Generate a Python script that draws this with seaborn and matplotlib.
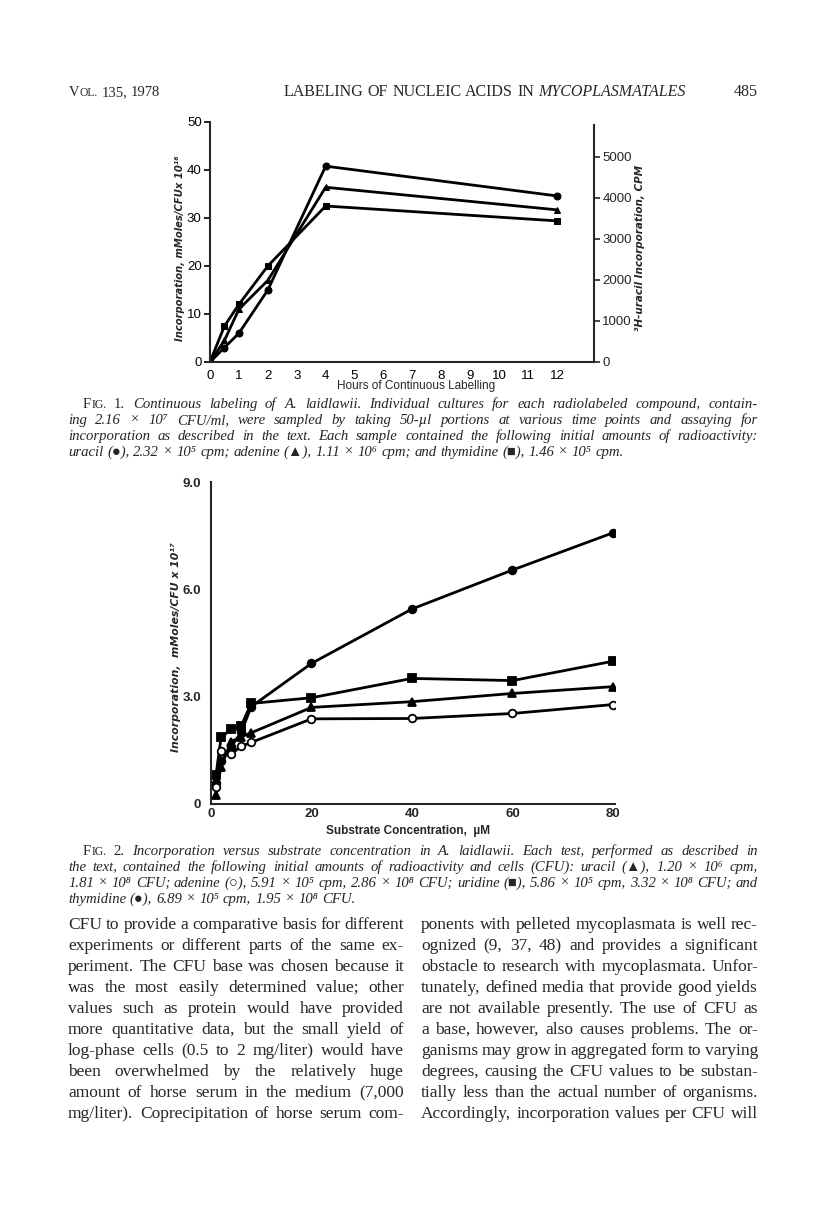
import numpy as np
import pandas as pd
import matplotlib
matplotlib.use("Agg")
import matplotlib.pyplot as plt
import seaborn as sns

# ---------------- data ----------------
# Fig. 1 : continuous labelling
hours = [0, 0.5, 1, 2, 4, 12]
uracil_f1 = [0, 3.0, 6.0, 15.0, 40.8, 34.6]
adenine_f1 = [0, 4.5, 11.0, 17.0, 36.4, 31.7]
thymidine_f1 = [0, 7.5, 12.0, 20.0, 32.5, 29.4]
f1_xticks = list(range(13))
f1_yticks = [0, 10, 20, 30, 40, 50]
f1_rticks = [0, 1000, 2000, 3000, 4000, 5000]

# Fig. 2 : substrate concentration
conc = [1, 2, 4, 6, 8, 20, 40, 60, 80]
uracil_f2 = [0.25, 1.04, 1.74, 1.88, 1.99, 2.70, 2.86, 3.09, 3.28]
adenine_f2 = [0.48, 1.49, 1.40, 1.61, 1.72, 2.38, 2.39, 2.53, 2.78]
uridine_f2 = [0.81, 1.86, 2.09, 2.18, 2.81, 2.97, 3.51, 3.45, 3.99]
thymidine_f2 = [0.60, 1.20, 1.60, 2.00, 2.72, 3.93, 5.45, 6.54, 7.58]
f2_xticks = [0, 20, 40, 60, 80]
f2_yticks = [0, 3.0, 6.0, 9.0]
f2_yticklabels = ["0", "3.0", "6.0", "9.0"]

# ---------------- text ----------------
header_left = "135, 1978"
header_title = "LABELING OF NUCLEIC ACIDS IN"
header_title_it = "MYCOPLASMATALES"
header_page = "485"

cap1_first = "Continuous labeling of A. laidlawii. Individual cultures for each radiolabeled compound, contain-"
cap1_rest = [
    "ing 2.16 \u00d7 10\u2077 CFU/ml, were sampled by taking 50-\u00b5l portions at various time points and assaying for",
    "incorporation as described in the text. Each sample contained the following initial amounts of radioactivity:",
    "uracil (\u25cf), 2.32 \u00d7 10\u2075 cpm; adenine (\u25b2), 1.11 \u00d7 10\u2076 cpm; and thymidine (\u25a0), 1.46 \u00d7 10\u2075 cpm.",
]
cap2_first = "Incorporation versus substrate concentration in A. laidlawii. Each test, performed as described in"
cap2_rest = [
    "the text, contained the following initial amounts of radioactivity and cells (CFU): uracil (\u25b2), 1.20 \u00d7 10\u2076 cpm,",
    "1.81 \u00d7 10\u2078 CFU; adenine (\u25cb), 5.91 \u00d7 10\u2075 cpm, 2.86 \u00d7 10\u2078 CFU; uridine (\u25a0), 5.86 \u00d7 10\u2075 cpm, 3.32 \u00d7 10\u2078 CFU; and",
    "thymidine (\u25cf), 6.89 \u00d7 10\u2075 cpm, 1.95 \u00d7 10\u2078 CFU.",
]
body_left = [
    "CFU to provide a comparative basis for different",
    "experiments or different parts of the same ex-",
    "periment. The CFU base was chosen because it",
    "was the most easily determined value; other",
    "values such as protein would have provided",
    "more quantitative data, but the small yield of",
    "log-phase cells (0.5 to 2 mg/liter) would have",
    "been overwhelmed by the relatively huge",
    "amount of horse serum in the medium (7,000",
    "mg/liter). Coprecipitation of horse serum com-",
]
body_right = [
    "ponents with pelleted mycoplasmata is well rec-",
    "ognized (9, 37, 48) and provides a significant",
    "obstacle to research with mycoplasmata. Unfor-",
    "tunately, defined media that provide good yields",
    "are not available presently. The use of CFU as",
    "a base, however, also causes problems. The or-",
    "ganisms may grow in aggregated form to varying",
    "degrees, causing the CFU values to be substan-",
    "tially less than the actual number of organisms.",
    "Accordingly, incorporation values per CFU will",
]

# ---------------- style ----------------
sns.set_style("white")
plt.rcParams["font.family"] = ["Liberation Sans", "DejaVu Sans"]
plt.rcParams["axes.linewidth"] = 1.5

SERIF = ["Liberation Serif", "DejaVu Serif", "DejaVu Sans"]
SANS = ["Liberation Sans", "DejaVu Sans"]
LAB = ["DejaVu Sans"]

W, H = 816, 1223
fig = plt.figure(figsize=(W / 100, H / 100), dpi=100)
fig.patch.set_facecolor("white")


def axrect(x0, y0, x1, y1):
    return [x0 / W, 1 - y1 / H, (x1 - x0) / W, (y1 - y0) / H]


# ---------------- Fig. 1 ----------------
ax1 = fig.add_axes(axrect(210, 122, 594, 362))
series1 = [(uracil_f1, "o"), (adenine_f1, "^"), (thymidine_f1, "s")]
for vals, mk in series1:
    sns.lineplot(x=hours, y=vals, ax=ax1, color="black", linewidth=2.0,
                 marker=mk, markersize=5, markeredgecolor="black",
                 markerfacecolor="black", legend=False)
ax1.set_xlim(0, 13.28)
ax1.set_ylim(0, 50)
ax1.set_xticks(f1_xticks)
ax1.set_xticklabels([str(t) for t in f1_xticks])
ax1.set_yticks(f1_yticks)
ax1.set_yticklabels([str(t) for t in f1_yticks])
ax1.spines["top"].set_visible(False)
ax1.spines["right"].set_visible(False)
ax1.tick_params(axis="both", direction="out", length=4, width=1.2,
                labelsize=9.5, pad=2, colors="black")
ax1.set_xlabel("")
ax1.set_ylabel("")

ax1b = ax1.twinx()
ax1b.set_ylim(0, 5000 * 240 / 205)
ax1b.set_yticks(f1_rticks)
ax1b.set_yticklabels([str(t) for t in f1_rticks])
for s in ["top", "left", "bottom"]:
    ax1b.spines[s].set_visible(False)
ax1b.spines["right"].set_linewidth(1.5)
ax1b.spines["right"].set_bounds(0, 5780)
ax1b.tick_params(axis="y", direction="out", length=4, width=1.2,
                 labelsize=9.5, pad=2)

fig.text(416 / W, 1 - 386 / H, "Hours of Continuous Labelling", ha="center",
         va="center", fontsize=8.5, family=SANS)
fig.text(180 / W, 1 - 248 / H, "Incorporation, mMoles/CFUx 10\u00b9\u2076",
         rotation=90, ha="center", va="center", fontsize=7.2,
         family=LAB, fontweight="bold", style="italic")
fig.text(640 / W, 1 - 248 / H, "\u00b3H-uracil Incorporation, CPM",
         rotation=90, ha="center", va="center", fontsize=7.5,
         family=LAB, fontweight="bold", style="italic")

# ---------------- Fig. 2 ----------------
ax2 = fig.add_axes(axrect(211, 482, 615, 804))
series2 = [(thymidine_f2, "o", "black"), (uridine_f2, "s", "black"),
           (uracil_f2, "^", "black"), (adenine_f2, "o", "white")]
for vals, mk, fc in series2:
    sns.lineplot(x=conc, y=vals, ax=ax2, color="black", linewidth=2.0,
                 marker=mk, markersize=5.5, markeredgecolor="black",
                 markeredgewidth=1.3, markerfacecolor=fc, legend=False)
ax2.set_xlim(0, 80.4)
ax2.set_ylim(0, 9.0)
ax2.set_xticks(f2_xticks)
ax2.set_xticklabels([str(t) for t in f2_xticks])
ax2.set_yticks(f2_yticks)
ax2.set_yticklabels(f2_yticklabels)
ax2.spines["top"].set_visible(False)
ax2.spines["right"].set_visible(False)
ax2.tick_params(axis="x", direction="out", length=2, width=1.2,
                labelsize=9.5, pad=1)
ax2.tick_params(axis="y", direction="out", length=4, width=1.2,
                labelsize=9.5, pad=3)
for lab in ax2.get_xticklabels() + ax2.get_yticklabels():
    lab.set_fontweight("bold")
    lab.set_family(SANS)
ax2.set_xlabel("")
ax2.set_ylabel("")

fig.text(408 / W, 1 - 831 / H, "Substrate Concentration,  \u00b5M", ha="center",
         va="center", fontsize=8.5, family=SANS, fontweight="bold")
fig.text(176 / W, 1 - 647 / H, "Incorporation,  mMoles/CFU x 10\u00b9\u2077",
         rotation=90, ha="center", va="center", fontsize=7.8,
         family=LAB, fontweight="bold", style="italic")

# ---------------- page text ----------------
R = fig.canvas.get_renderer()
_cache = {}


def measure(s, kw):
    key = (s, tuple(sorted((k, str(v)) for k, v in kw.items())))
    if key not in _cache:
        t = fig.text(0, 0, s, **kw)
        _cache[key] = t.get_window_extent(renderer=R).width
        t.remove()
    return _cache[key]


def space_width(kw):
    return measure("a a", kw) - measure("aa", kw)


def put(x, y, s, kw):
    fig.text(x / W, 1 - y / H, s, ha="left", va="baseline", **kw)


def draw_line(x0, x1, y, words, justify=True, skw=None):
    widths = [sum(measure(s, kw) for s, kw in w) for w in words]
    total = sum(widths)
    n = len(words)
    if justify and n > 1:
        gap = (x1 - x0 - total) / (n - 1)
    else:
        gap = space_width(skw)
    x = x0
    for w, wd in zip(words, widths):
        xx = x
        for s, kw in w:
            put(xx, y, s, kw)
            xx += measure(s, kw)
        x += wd + gap


def split(line, kw):
    return [[(w, kw)] for w in line.split(" ")]


def fit_size(lines, width, base, start, extra=None):
    """largest font size so that every line fits with a minimum word gap"""
    size = start
    while size > 6:
        kw = dict(base, fontsize=size)
        ok = True
        for ln in lines:
            ws = ln.split(" ")
            nat = sum(measure(w, kw) for w in ws)
            if extra is not None and ln is lines[0]:
                nat += extra(size)
            if nat + 0.7 * space_width(kw) * (len(ws) - 1) > width:
                ok = False
                break
        if ok:
            return size
        size -= 0.1
    return size


# header
HR = dict(family=SERIF, fontsize=11.5)
HS = dict(family=SERIF, fontsize=9)
HI = dict(family=SERIF, fontsize=11.5, style="italic")
draw_line(69, 0, 96, [[("V", dict(HR, fontsize=10.5)), ("OL.", dict(HS, fontsize=8.3))]]
          + split(header_left, dict(HR, fontsize=10.5)),
          justify=False, skw=dict(HR, fontsize=10.5))
title_words = split(header_title, HR) + [[(header_title_it, HI)]]
draw_line(284, 0, 96, title_words, justify=False, skw=HR)
fig.text(758 / W, 1 - 96 / H, header_page, ha="right", va="baseline", **HR)

# captions
L, RGT = 68, 758
CBASE = dict(family=SERIF, style="italic")
csize = fit_size(cap1_rest[:-1] + cap2_rest[:-1], RGT - L, CBASE, 10.6)
csize = min(csize, fit_size([cap1_first, cap2_first], RGT - 83 - 45, CBASE, 10.6))
CI = dict(family=SERIF, fontsize=csize, style="italic")
CR = dict(family=SERIF, fontsize=csize)
CS = dict(family=SERIF, fontsize=csize * 0.8)


def caption(y0, num, first, rest):
    words = [[("F", CR), ("IG.", CS)], [(num + ".", CR)]] + split(first, CI)
    draw_line(83, RGT, y0, words, justify=True)
    for i, ln in enumerate(rest):
        last = i == len(rest) - 1
        draw_line(L, RGT, y0 + 16 * (i + 1), split(ln, CI), justify=not last,
                  skw=CI)


caption(408, "1", cap1_first, cap1_rest)
caption(855, "2", cap2_first, cap2_rest)

# body text
BBASE = dict(family=SERIF)
bsize = min(fit_size(body_left, 404 - 68, BBASE, 12.5),
            fit_size(body_right, 758 - 421, BBASE, 12.5))
BR = dict(family=SERIF, fontsize=bsize)
for i, ln in enumerate(body_left):
    draw_line(68, 404, 929 + 21 * i, split(ln, BR), justify=True)
for i, ln in enumerate(body_right):
    draw_line(421, 758, 929 + 21 * i, split(ln, BR), justify=True)

fig.savefig("out.png", dpi=100, facecolor="white")
